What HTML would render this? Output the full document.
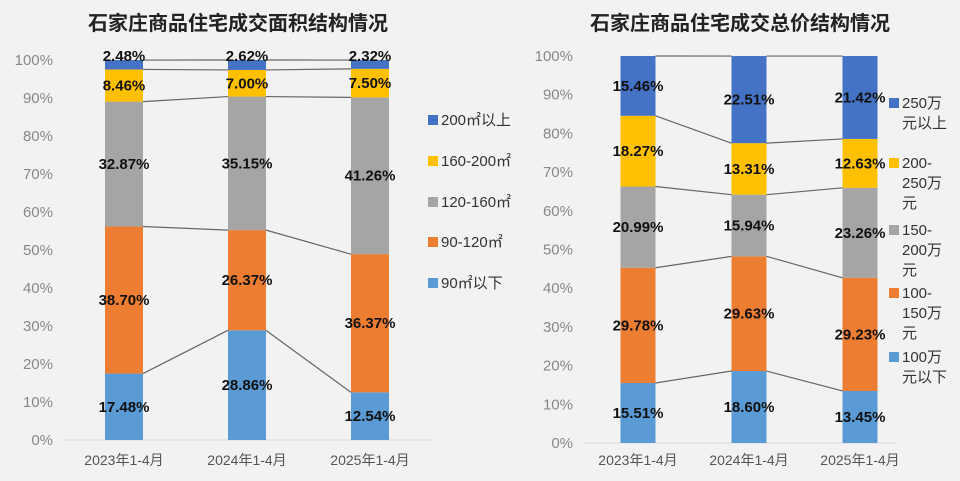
<!DOCTYPE html>
<html><head><meta charset="utf-8">
<style>
body{margin:0;width:960px;height:476px;background:#f2f2f2;overflow:hidden;font-family:"Liberation Sans","Noto Sans CJK SC",sans-serif;}
svg text{font-family:"Liberation Sans","Noto Sans CJK SC",sans-serif;}
</style></head><body>
<svg id="c" width="960" height="476">
<rect x="0" y="0" width="960" height="476" fill="#f2f2f2"/>
<text x="238" y="30" font-size="20" font-weight="bold" text-anchor="middle" fill="#222">石家庄商品住宅成交面积结构情况</text>
<text x="740" y="30" font-size="20" font-weight="bold" text-anchor="middle" fill="#222">石家庄商品住宅成交总价结构情况</text>
<line x1="64" y1="440" x2="432" y2="440" stroke="#d9d9d9"/>
<line x1="583" y1="443" x2="896" y2="443" stroke="#d9d9d9"/>
</svg>
<script>
const categories=["2023年1-4月","2024年1-4月","2025年1-4月"];
const areaSeries=["90㎡以下","90-120㎡","120-160㎡","160-200㎡","200㎡以上"];
const area90=[17.48,28.86,12.54];
const area120=[38.70,26.37,36.37];
const area160=[32.87,35.15,41.26];
const area200=[8.46,7.00,7.50];
const areaAbove=[2.48,2.62,2.32];
const priceSeries=["100万元以下","100-150万元","150-200万元","200-250万元","250万元以上"];
const price100=[15.51,18.60,13.45];
const price150=[29.78,29.63,29.23];
const price200=[20.99,15.94,23.26];
const price250=[18.27,13.31,12.63];
const priceAbove=[15.46,22.51,21.42];
const yTicks=[0,10,20,30,40,50,60,70,80,90,100];
const colors=["#5b9bd5","#ed7d31","#a5a5a5","#ffc000","#4472c4"];
const svg=document.getElementById('c');
const NS="http://www.w3.org/2000/svg";
function mk(t,a,p){const e=document.createElementNS(NS,t);for(const k in a)e.setAttribute(k,a[k]);(p||svg).appendChild(e);return e;}
function drawChart(cfg){
  const y=v=>cfg.y0-(cfg.y0-cfg.y100)*v/100;
  const x=i=>cfg.x0+i*cfg.step;
  yTicks.forEach(t=>{const e=mk('text',{x:cfg.tickX,y:y(t)+5,'font-size':15,'text-anchor':'end',fill:'#888'});e.textContent=t+'%';
    
    });
  categories.forEach((c,i)=>{const e=mk('text',{x:x(i),y:465,'font-size':14,'text-anchor':'middle',fill:'#555'});e.textContent=c;
    
    });
  const cum=categories.map((c,i)=>{let s=0;const r=[0];cfg.series.forEach(a=>{s+=a[i];r.push(s);});return r;});
  cfg.series.forEach((arr,k)=>{
    categories.forEach((c,i)=>{
      const b=cum[i][k],t=cum[i][k+1];
      const r=mk('rect',{x:x(i)-cfg.w/2,y:y(Math.min(t,100)),width:cfg.w,height:y(b)-y(Math.min(t,100)),fill:colors[k]});
      
      
    });
  });
  for(let k=1;k<=cfg.series.length;k++){
    for(let i=0;i<categories.length-1;i++){
      const l=mk('line',{x1:x(i)+cfg.w/2,y1:y(Math.min(cum[i][k],100)),x2:x(i+1)-cfg.w/2,y2:y(Math.min(cum[i+1][k],100)),stroke:'#666','stroke-width':1.2});
      
      
    }
  }
  cfg.series.forEach((arr,k)=>{
    categories.forEach((c,i)=>{
      const m=(cum[i][k]+cum[i][k+1])/2;
      let yy=y(m)+5; if(arr[i]<3) yy=y(100)+1;
      const e=mk('text',{x:x(i),y:yy,'font-size':15,'font-weight':'bold','text-anchor':'middle',fill:'#111'});
      e.textContent=arr[i].toFixed(2)+'%';
      
      
    });
  });
  cfg.legend.forEach((L,idx)=>{
    const k=cfg.series.length-1-idx;
    const r=mk('rect',{x:cfg.lx,y:L.y-10,width:10,height:10,fill:colors[k]});
    
    
    L.lines.forEach((s,j)=>{const e=mk('text',{x:cfg.lx+13,y:L.y+j*20,'font-size':15,fill:'#333'});e.textContent=s;
      
      });
  });
}
drawChart({id:'area',series:[area90,area120,area160,area200,areaAbove],y0:440,y100:60,x0:124,step:123,w:38,tickX:53,lx:428,
  legend:[{y:125,lines:["200㎡以上"]},{y:166,lines:["160-200㎡"]},{y:207,lines:["120-160㎡"]},{y:247,lines:["90-120㎡"]},{y:288,lines:["90㎡以下"]}]});
drawChart({id:'price',series:[price100,price150,price200,price250,priceAbove],y0:443,y100:56,x0:638,step:111,w:35,tickX:573,lx:889,
  legend:[{y:108,lines:["250万","元以上"]},{y:168,lines:["200-","250万","元"]},{y:235,lines:["150-","200万","元"]},{y:298,lines:["100-","150万","元"]},{y:362,lines:["100万","元以下"]}]});
</script>
</body></html>
